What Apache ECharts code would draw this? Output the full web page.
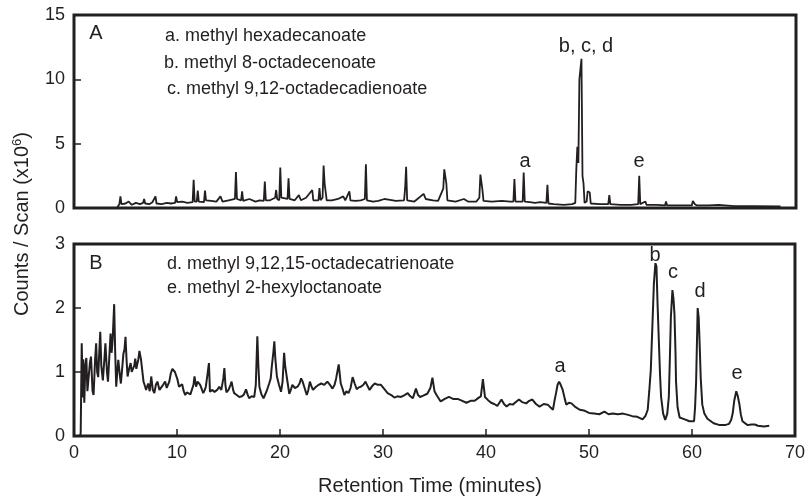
<html>
<head>
    <meta charset="utf-8">
    <title>Chromatogram</title>
    <script src="https://cdn.jsdelivr.net/npm/echarts@6/dist/echarts.min.js"></script>
    <style>
        body { margin: 0; background: #fff; }
    </style>
</head>
<body>
<div id="chartmain" style="width:808px; height:498px;"></div>
<script type="text/javascript">
    // x ticks (minutes) shared by both panels
    var xTicks = [0, 10, 20, 30, 40, 50, 60, 70];
    var yTicksA = [0, 5, 10, 15];
    var yTicksB = [0, 1, 2, 3];

    // panel A trace: [minutes, counts x10^6]
    var traceA = [
        [4.2,0.05],[4.4,0.3],[4.5,0.9],[4.6,0.3],[5.0,0.35],[5.3,0.5],[5.6,0.25],[6.0,0.4],[6.4,0.3],[6.7,0.4],
        [6.8,0.7],[6.9,0.35],[7.3,0.3],[7.6,0.45],[7.9,0.9],[8.0,0.35],[8.5,0.3],[9.0,0.4],[9.4,0.35],[9.8,0.4],
        [9.9,0.9],[10.0,0.45],[10.5,0.5],[11.0,0.4],[11.5,0.45],[11.6,2.2],[11.7,0.5],[11.9,0.5],[12.0,1.35],[12.1,0.5],
        [12.6,0.45],[12.7,1.35],[12.8,0.6],[13.3,0.55],[13.8,0.5],[14.2,0.9],[14.4,0.5],[15.0,0.6],[15.6,0.7],[15.7,2.8],
        [15.8,0.7],[16.2,0.6],[16.3,1.3],[16.4,0.55],[17.0,0.7],[17.6,0.5],[18.0,0.6],[18.4,0.55],[18.5,2.05],[18.6,0.6],
        [19.0,0.6],[19.5,0.8],[19.6,1.4],[19.7,0.7],[19.9,0.6],[20.0,3.15],[20.1,0.8],[20.7,0.7],[20.8,2.3],[20.9,0.7],
        [21.4,0.6],[21.8,1.0],[22.0,0.6],[22.5,0.8],[23.1,1.4],[23.2,0.6],[23.7,0.6],[23.8,1.55],[23.9,0.6],[24.1,0.8],
        [24.2,3.3],[24.3,1.9],[24.5,0.6],[25.0,0.6],[25.6,0.7],[26.1,0.9],[26.3,0.6],[26.7,1.3],[26.8,0.6],[27.3,0.55],
        [27.8,0.6],[28.2,0.7],[28.3,3.4],[28.4,0.6],[29.0,0.5],[29.5,0.55],[30.1,0.7],[30.5,0.65],[31.2,0.55],[32.0,0.6],
        [32.1,1.5],[32.2,3.2],[32.3,0.6],[33.0,0.5],[33.9,1.1],[34.1,0.7],[34.8,0.6],[35.3,0.55],[35.8,1.5],[35.9,3.0],
        [36.1,1.9],[36.2,0.6],[37.0,0.5],[37.8,0.7],[38.2,0.5],[39.0,0.5],[39.3,0.8],[39.4,2.6],[39.6,1.4],[39.7,0.55],
        [40.5,0.5],[41.5,0.55],[42.3,0.5],[42.6,0.5],[42.7,2.25],[42.8,0.5],[43.5,0.5],[43.6,2.75],[43.7,0.5],[44.2,0.45],
        [44.7,0.4],[45.2,0.45],[45.8,0.4],[45.9,1.8],[46.0,0.35],[46.5,0.3],[47.5,0.25],[48.3,0.3],[48.6,0.4],[48.7,3.0],
        [48.8,4.75],[48.9,3.5],[49.0,10.0],[49.2,11.6],[49.3,2.5],[49.4,1.9],[49.5,0.4],[49.7,0.5],[49.8,1.3],[50.0,1.2],
        [50.1,0.35],[51.0,0.3],[51.8,0.3],[51.9,1.0],[52.0,0.3],[53.0,0.25],[54.0,0.25],[54.7,0.3],[54.8,2.5],[54.9,0.3],
        [55.4,0.5],[55.5,0.25],[56.5,0.25],[57.3,0.2],[57.4,0.5],[57.5,0.2],[59.0,0.2],[59.9,0.2],[60.0,0.55],[60.2,0.3],
        [60.4,0.2],[61.5,0.2],[62.5,0.25],[62.6,0.15],[64.0,0.15],[66.0,0.15],[68.5,0.12]
    ];

    // panel B trace: [minutes, counts x10^6]
    var traceB = [
        [0.6,0.0],[0.65,0.05],[0.75,1.45],[0.85,0.6],[0.9,1.2],[1.0,0.52],[1.1,1.1],[1.2,1.22],[1.3,0.7],[1.4,0.67],
        [1.55,1.15],[1.65,1.24],[1.8,0.7],[1.9,0.64],[2.05,1.2],[2.15,1.45],[2.25,1.0],[2.35,0.92],[2.45,1.3],[2.55,1.63],
        [2.65,1.1],[2.8,0.87],[2.95,1.2],[3.05,1.45],[3.2,1.0],[3.3,0.85],[3.45,1.3],[3.55,1.6],[3.65,1.3],[3.75,1.5],
        [3.9,2.06],[4.0,1.3],[4.1,0.77],[4.2,1.0],[4.3,1.19],[4.45,0.95],[4.55,0.82],[4.7,1.1],[4.8,1.29],[4.9,1.35],
        [5.0,1.55],[5.1,1.2],[5.2,0.93],[5.35,1.05],[5.5,1.14],[5.6,1.0],[5.7,0.98],[5.85,1.1],[5.95,1.21],[6.05,1.05],
        [6.1,1.03],[6.25,1.2],[6.35,1.33],[6.5,1.2],[6.6,1.19],[6.75,0.85],[6.85,0.8],[7.0,0.72],[7.2,0.82],[7.35,0.7],
        [7.5,0.93],[7.65,0.72],[7.8,0.67],[7.95,0.8],[8.1,0.85],[8.3,0.72],[8.45,0.69],[8.65,0.8],[8.85,0.85],[9.0,0.75],
        [9.1,0.72],[9.25,0.85],[9.4,0.98],[9.55,1.05],[9.65,1.08],[9.8,1.0],[9.9,1.0],[10.05,0.88],[10.2,0.77],[10.35,0.78],
        [10.5,0.81],[10.65,0.7],[10.8,0.64],[10.95,0.68],[11.1,0.67],[11.3,0.65],[11.45,0.62],[11.6,0.8],[11.7,0.93],[11.85,0.77],
        [12.0,0.85],[12.1,0.88],[12.25,0.8],[12.35,0.82],[12.55,0.67],[12.7,0.72],[12.8,0.77],[12.95,0.95],[13.1,1.14],[13.2,0.69],
        [13.4,0.72],[13.65,0.69],[13.9,0.72],[14.1,0.77],[14.3,0.72],[14.5,0.9],[14.6,1.06],[14.7,0.8],[14.8,0.68],[15.0,0.72],
        [15.2,0.8],[15.3,0.85],[15.45,0.72],[15.55,0.67],[15.8,0.64],[16.05,0.61],[16.3,0.62],[16.5,0.65],[16.7,0.73],[16.85,0.65],
        [17.0,0.59],[17.25,0.62],[17.5,0.61],[17.65,0.8],[17.8,1.56],[17.9,1.1],[18.0,0.77],[18.2,0.65],[18.4,0.59],[18.7,0.7],
        [18.95,0.82],[19.1,0.9],[19.2,1.08],[19.35,1.3],[19.45,1.48],[19.55,1.2],[19.7,0.93],[19.9,0.8],[20.1,0.69],[20.25,0.85],
        [20.4,1.3],[20.5,1.1],[20.65,0.93],[20.9,0.66],[21.05,0.72],[21.2,0.8],[21.45,0.75],[21.7,0.77],[21.9,0.82],[22.05,0.9],
        [22.2,0.85],[22.35,0.77],[22.6,0.64],[22.75,0.72],[22.9,0.85],[23.05,0.78],[23.2,0.72],[23.5,0.77],[23.75,0.8],[24.0,0.82],
        [24.3,0.8],[24.6,0.85],[24.85,0.8],[25.1,0.74],[25.3,0.8],[25.45,0.9],[25.7,1.12],[25.9,0.82],[26.05,0.75],[26.25,0.64],
        [26.45,0.7],[26.65,0.67],[26.85,0.75],[27.05,0.92],[27.25,0.82],[27.45,0.73],[27.65,0.76],[27.85,0.77],[28.1,0.8],[28.3,0.85],
        [28.5,0.78],[28.7,0.72],[28.95,0.78],[29.2,0.82],[29.5,0.8],[29.8,0.8],[30.1,0.74],[30.45,0.67],[30.8,0.64],[31.1,0.6],
        [31.4,0.62],[31.75,0.61],[32.1,0.64],[32.4,0.67],[32.65,0.62],[32.9,0.59],[33.2,0.74],[33.4,0.64],[33.6,0.61],[33.9,0.63],
        [34.3,0.66],[34.6,0.75],[34.8,0.91],[35.0,0.7],[35.2,0.64],[35.6,0.54],[36.0,0.58],[36.4,0.61],[36.8,0.58],[37.25,0.58],
        [37.7,0.55],[38.1,0.52],[38.5,0.55],[38.9,0.55],[39.3,0.6],[39.5,0.62],[39.7,0.89],[39.9,0.61],[40.2,0.56],[40.5,0.52],
        [40.8,0.5],[41.1,0.47],[41.5,0.57],[41.75,0.5],[42.0,0.46],[42.3,0.5],[42.6,0.49],[42.9,0.53],[43.2,0.57],[43.5,0.53],
        [43.9,0.51],[44.2,0.55],[44.5,0.57],[44.85,0.5],[45.2,0.46],[45.6,0.5],[46.0,0.49],[46.3,0.44],[46.5,0.41],[46.65,0.55],
        [46.8,0.67],[46.95,0.8],[47.1,0.85],[47.25,0.8],[47.45,0.72],[47.65,0.58],[47.8,0.49],[48.05,0.52],[48.3,0.51],[48.7,0.45],
        [49.1,0.41],[49.5,0.4],[50.0,0.36],[50.5,0.35],[51.0,0.34],[51.5,0.38],[51.9,0.34],[52.3,0.35],[52.8,0.34],[53.3,0.35],
        [53.8,0.33],[54.2,0.31],[54.7,0.3],[55.2,0.26],[55.5,0.32],[55.7,0.41],[55.85,0.7],[56.0,1.03],[56.15,1.7],[56.3,2.38],
        [56.45,2.7],[56.55,2.65],[56.65,2.1],[56.8,1.4],[56.9,0.95],[57.0,0.61],[57.2,0.35],[57.4,0.25],[57.6,0.35],[57.75,0.61],
        [57.85,1.2],[57.95,1.86],[58.1,2.28],[58.2,2.15],[58.3,1.9],[58.4,1.3],[58.45,0.85],[58.6,0.45],[58.8,0.29],[59.3,0.26],
        [59.75,0.23],[60.2,0.23],[60.3,0.45],[60.4,0.85],[60.5,1.6],[60.55,2.0],[60.65,1.85],[60.75,1.4],[60.85,0.9],[61.0,0.49],
        [61.2,0.35],[61.5,0.27],[62.1,0.2],[62.7,0.17],[63.2,0.17],[63.6,0.19],[63.8,0.25],[63.95,0.35],[64.1,0.55],[64.3,0.7],
        [64.45,0.62],[64.6,0.5],[64.75,0.33],[64.9,0.23],[65.4,0.17],[65.75,0.18],[65.9,0.21],[66.1,0.18],[66.4,0.16],[67.0,0.15],
        [67.5,0.16]
    ];

    var compoundsA = ['a. methyl hexadecanoate', 'b. methyl 8-octadecenoate', 'c. methyl 9,12-octadecadienoate'];
    var compoundsB = ['d. methyl 9,12,15-octadecatrienoate', 'e. methyl 2-hexyloctanoate'];

    var ink = '#231f20';
    var font = 'Liberation Sans, Arial, sans-serif';

    function yAxis(idx, ticks) {
        return {
            type: 'value', gridIndex: idx,
            min: ticks[0], max: ticks[ticks.length - 1], interval: ticks[1] - ticks[0],
            axisLine: { show: false },
            axisTick: { show: true, inside: true, length: 7, lineStyle: { color: ink, width: 1.5 } },
            axisLabel: { color: ink, fontSize: 18, fontFamily: font, margin: 9 },
            splitLine: { show: false }
        };
    }

    function txt(x, y, s, size, align) {
        return {
            type: 'text', x: x, y: y, silent: true,
            style: { text: s, fill: ink, font: size + 'px ' + font, textAlign: align || 'left', textVerticalAlign: 'middle' }
        };
    }

    var myChart = echarts.init(document.getElementById('chartmain'));
    myChart.setOption({
        animation: false,
        backgroundColor: '#fff',
        grid: [
            { left: 74, right: 12, top: 15, height: 193, show: true, borderColor: ink, borderWidth: 3 },
            { left: 74, right: 12, top: 244, height: 192, show: true, borderColor: ink, borderWidth: 3 }
        ],
        xAxis: [
            {
                type: 'value', gridIndex: 0, min: xTicks[0], max: xTicks[xTicks.length - 1], interval: 10,
                axisLine: { show: false }, axisTick: { show: false }, axisLabel: { show: false }, splitLine: { show: false }
            },
            {
                type: 'value', gridIndex: 1, min: xTicks[0], max: xTicks[xTicks.length - 1], interval: 10,
                axisLine: { show: false },
                axisTick: { show: true, inside: true, length: 7, lineStyle: { color: ink, width: 1.5 } },
                axisLabel: { color: ink, fontSize: 18, fontFamily: font, margin: 8, showMaxLabel: true },
                splitLine: { show: false }
            }
        ],
        yAxis: [yAxis(0, yTicksA), yAxis(1, yTicksB)],
        series: [
            {
                name: 'A', type: 'line', xAxisIndex: 0, yAxisIndex: 0, data: traceA,
                showSymbol: false, lineStyle: { color: ink, width: 1.8 }
            },
            {
                name: 'B', type: 'line', xAxisIndex: 1, yAxisIndex: 1, data: traceB,
                showSymbol: false, lineStyle: { color: ink, width: 2 }
            }
        ],
        graphic: [
            txt(96, 33, 'A', 20, 'center'),
            txt(165, 36, compoundsA[0], 18),
            txt(164, 63, compoundsA[1], 18),
            txt(167, 89, compoundsA[2], 18),
            txt(586, 46, 'b, c, d', 20, 'center'),
            txt(525, 161, 'a', 20, 'center'),
            txt(639, 161, 'e', 20, 'center'),
            txt(96, 263, 'B', 20, 'center'),
            txt(167, 264, compoundsB[0], 18),
            txt(167, 288, compoundsB[1], 18),
            txt(560, 366, 'a', 20, 'center'),
            txt(655, 255, 'b', 20, 'center'),
            txt(673, 272, 'c', 20, 'center'),
            txt(700, 291, 'd', 20, 'center'),
            txt(737, 373, 'e', 20, 'center'),
            txt(430, 486, 'Retention Time (minutes)', 20, 'center'),
            {
                type: 'text', x: 22, y: 224, rotation: Math.PI / 2, silent: true,
                style: {
                    text: 'Counts / Scan (x10{sup|6})',
                    fill: ink, font: '20px ' + font, textAlign: 'center', textVerticalAlign: 'middle',
                    rich: { sup: { fontSize: 13, fontFamily: font, fill: ink, verticalAlign: 'top', lineHeight: 22 } }
                }
            }
        ]
    });
</script>
</body>
</html>
